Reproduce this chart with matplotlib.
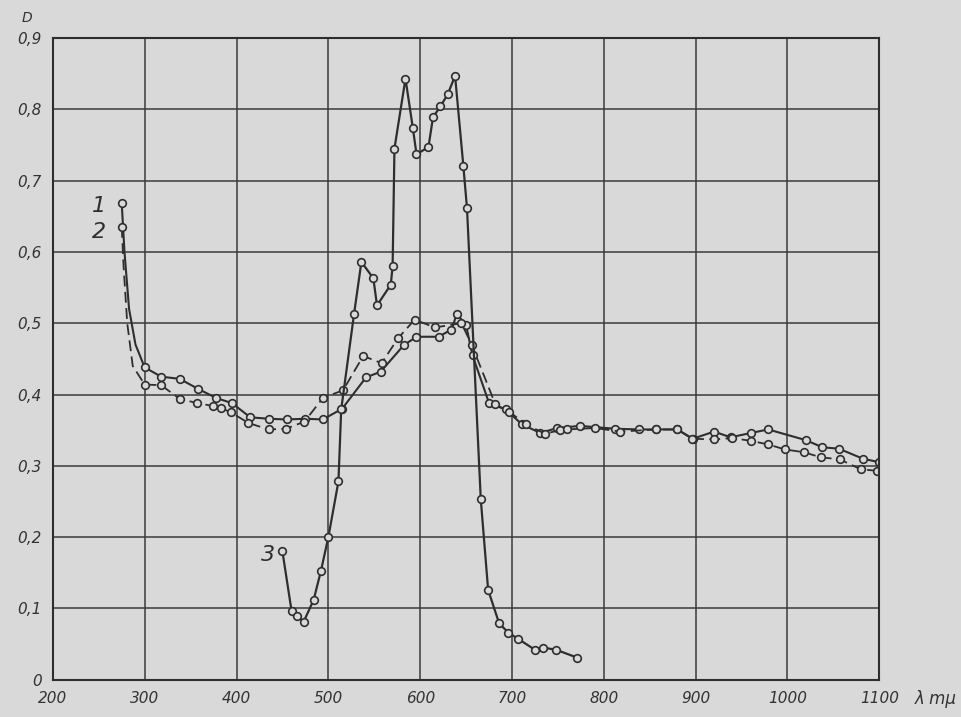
import numpy as np
import matplotlib
matplotlib.use("Agg")
import matplotlib.pyplot as plt

# curve 1 (solid) - first points are the steep start without markers
wl1 = [275, 278, 283, 290, 300, 318, 338, 358, 378, 395, 415, 435, 455, 475, 494,
       515, 541, 557, 582, 596, 620, 634, 640, 650, 657, 675, 693, 711, 731, 749,
       774, 812, 838, 857, 880, 897, 920, 938, 960, 979, 1020, 1038, 1056, 1082, 1100]
D1 = [0.668, 0.60, 0.52, 0.47, 0.438, 0.425, 0.422, 0.408, 0.395, 0.388, 0.368, 0.366,
      0.365, 0.366, 0.365, 0.38, 0.424, 0.432, 0.469, 0.481, 0.481, 0.491, 0.513, 0.497,
      0.455, 0.388, 0.379, 0.358, 0.346, 0.353, 0.356, 0.352, 0.351, 0.351, 0.351,
      0.338, 0.348, 0.34, 0.346, 0.351, 0.336, 0.326, 0.324, 0.31, 0.305]
nomark1 = [1, 2, 3]

# curve 2 (dashed)
wl2 = [275, 277, 281, 287, 300, 318, 338, 357, 374, 383, 394, 413, 435, 454, 474, 494,
       516, 538, 558, 576, 594, 616, 645, 656, 682, 697, 715, 736, 752, 760, 790, 818,
       857, 880, 896, 920, 940, 960, 979, 997, 1018, 1036, 1057, 1080, 1098]
D2 = [0.635, 0.58, 0.50, 0.44, 0.414, 0.413, 0.394, 0.388, 0.384, 0.381, 0.375, 0.36,
      0.351, 0.352, 0.362, 0.395, 0.406, 0.454, 0.444, 0.479, 0.505, 0.494, 0.50, 0.47,
      0.386, 0.376, 0.358, 0.345, 0.35, 0.351, 0.353, 0.348, 0.351, 0.351, 0.338, 0.337,
      0.339, 0.335, 0.33, 0.323, 0.319, 0.312, 0.309, 0.295, 0.293]
nomark2 = [1, 2, 3]

# curve 3 (solid)
wl3 = [450, 460, 466, 473, 484, 492, 500, 511, 514, 528, 536, 549, 553, 568, 570, 572,
       584, 592, 596, 609, 614, 622, 630, 638, 647, 651, 666, 674, 686, 696, 707, 725,
       734, 748, 771]
D3 = [0.18, 0.096, 0.09, 0.081, 0.112, 0.153, 0.2, 0.278, 0.379, 0.513, 0.586, 0.563,
      0.525, 0.554, 0.58, 0.745, 0.843, 0.774, 0.737, 0.747, 0.789, 0.804, 0.821, 0.847,
      0.721, 0.661, 0.253, 0.126, 0.079, 0.066, 0.057, 0.042, 0.045, 0.042, 0.031]

xticks = [200, 300, 400, 500, 600, 700, 800, 900, 1000, 1100]
yticks = [0, 0.1, 0.2, 0.3, 0.4, 0.5, 0.6, 0.7, 0.8, 0.9]
ylabels = ["0", "0,1", "0,2", "0,3", "0,4", "0,5", "0,6", "0,7", "0,8", "0,9"]

bg = "#d9d9d9"
ink = "#2e2e2e"

fig = plt.figure(figsize=(9.61, 7.17), dpi=100, facecolor=bg)
ax = fig.add_axes([0.055, 0.052, 0.86, 0.895], facecolor=bg)

ax.set_xlim(200, 1100)
ax.set_ylim(0, 0.9)
ax.set_xticks(xticks)
ax.set_yticks(yticks)
ax.grid(True, color="#3a3a3a", linewidth=1.1)
ax.set_axisbelow(True)
ax.tick_params(length=0, pad=8)
for s in ax.spines.values():
    s.set_color(ink)
    s.set_linewidth(1.5)

ax.set_xticklabels([str(t) for t in xticks], fontsize=11, style="italic", color="#333")
ax.set_yticklabels(ylabels, fontsize=11, style="italic", color="#333")

mk = dict(marker="o", markersize=5.5, markerfacecolor=bg, markeredgecolor=ink,
          markeredgewidth=1.2, color=ink)

m1 = [i for i in range(len(wl1)) if i not in nomark1]
m2 = [i for i in range(len(wl2)) if i not in nomark2]
ax.plot(wl1, D1, linewidth=1.5, markevery=m1, **mk)
ax.plot(wl2, D2, linewidth=1.3, linestyle=(0, (6, 3)), markevery=m2, **mk)
ax.plot(wl3, D3, linewidth=1.6, **mk)

ax.text(258, 0.665, "1", fontsize=16, style="italic", color=ink, ha="right", va="center")
ax.text(258, 0.628, "2", fontsize=16, style="italic", color=ink, ha="right", va="center")
ax.text(442, 0.175, "3", fontsize=16, style="italic", color=ink, ha="right", va="center")

fig.text(0.022, 0.985, "D", fontsize=10, style="italic", color="#333", va="top")
fig.text(0.952, 0.018, "λ mμ", fontsize=12, style="italic", color="#333")

fig.savefig("out.png", dpi=100, facecolor=bg)
